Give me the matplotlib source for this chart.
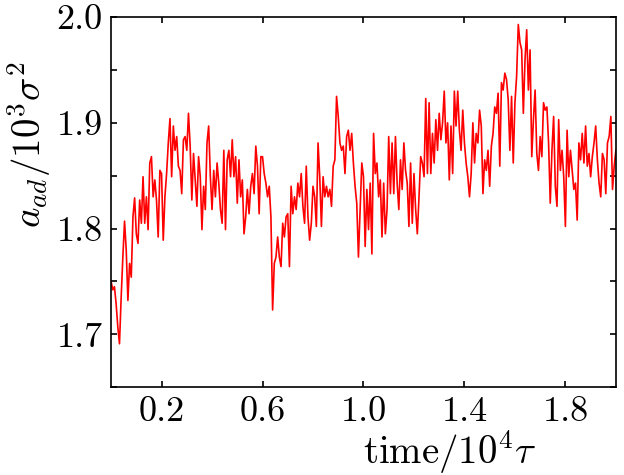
import numpy as np
import matplotlib
matplotlib.use("Agg")
import matplotlib.pyplot as plt
from matplotlib.ticker import MultipleLocator, FixedLocator

# Computer Modern look
plt.rcParams['font.family'] = 'serif'
plt.rcParams['font.serif'] = ['cmr10', 'DejaVu Serif']
plt.rcParams['mathtext.fontset'] = 'cm'
plt.rcParams['axes.formatter.use_mathtext'] = True

# a_ad (units of 10^3 sigma^2), evenly spaced in time
a_ad_part1 = [1.750, 1.742, 1.745, 1.729, 1.707, 1.691, 1.735, 1.773, 1.807, 1.780,
              1.732, 1.767, 1.754, 1.811, 1.829, 1.795, 1.786, 1.827, 1.805, 1.849,
              1.805, 1.830, 1.799, 1.862, 1.868, 1.830, 1.846, 1.827, 1.792, 1.855,
              1.852, 1.789, 1.830, 1.852, 1.881, 1.904, 1.849, 1.897, 1.874, 1.887,
              1.859, 1.855, 1.833, 1.884, 1.887, 1.874, 1.909, 1.878, 1.827, 1.871,
              1.846, 1.821, 1.868, 1.849, 1.799, 1.840, 1.818, 1.881, 1.897, 1.849,
              1.818, 1.855, 1.830, 1.862, 1.843, 1.818, 1.805, 1.874, 1.799, 1.865,
              1.874, 1.849]
a_ad_part2 = [1.884, 1.849, 1.868, 1.824, 1.865, 1.830, 1.846, 1.795, 1.811, 1.837,
              1.814, 1.840, 1.852, 1.833, 1.878, 1.859, 1.814, 1.868, 1.868, 1.852,
              1.843, 1.830, 1.840, 1.811, 1.723, 1.767, 1.773, 1.792, 1.773, 1.764,
              1.805, 1.792, 1.811, 1.814, 1.764, 1.840, 1.814, 1.830, 1.818, 1.843,
              1.830, 1.852, 1.821, 1.805, 1.859, 1.811, 1.789, 1.805, 1.840, 1.830,
              1.802, 1.881, 1.849, 1.802, 1.849, 1.830, 1.840, 1.830, 1.837, 1.821,
              1.859, 1.865, 1.925, 1.906, 1.881, 1.874, 1.878, 1.852, 1.887, 1.893,
              1.874]
a_ad_part3 = [1.890, 1.862, 1.840, 1.824, 1.773, 1.818, 1.862, 1.849, 1.783, 1.837,
              1.799, 1.843, 1.776, 1.890, 1.852, 1.862, 1.830, 1.846, 1.792, 1.843,
              1.795, 1.818, 1.887, 1.833, 1.881, 1.833, 1.887, 1.843, 1.818, 1.865,
              1.837, 1.881, 1.855, 1.843, 1.802, 1.862, 1.805, 1.852, 1.818, 1.795,
              1.830, 1.868, 1.862, 1.849, 1.923, 1.852, 1.919, 1.852, 1.890, 1.862,
              1.903, 1.874, 1.909, 1.884, 1.900, 1.930, 1.881, 1.900, 1.846, 1.897,
              1.852, 1.930, 1.897, 1.930, 1.893, 1.874, 1.912, 1.881, 1.862]
a_ad_part4 = [1.849, 1.830, 1.852, 1.900, 1.862, 1.890, 1.881, 1.912, 1.897, 1.833,
              1.865, 1.855, 1.874, 1.840, 1.878, 1.890, 1.915, 1.909, 1.928, 1.859,
              1.938, 1.931, 1.947, 1.941, 1.922, 1.874, 1.925, 1.862, 1.919, 1.944,
              1.993, 1.976, 1.969, 1.909, 1.960, 1.988, 1.931, 1.969, 1.868, 1.903,
              1.931, 1.871, 1.855, 1.887, 1.868, 1.919, 1.912, 1.915, 1.881, 1.824,
              1.874, 1.906, 1.840, 1.821, 1.903, 1.855, 1.874, 1.849, 1.802, 1.893,
              1.849, 1.874, 1.855, 1.837, 1.843, 1.808, 1.881, 1.865, 1.890, 1.862,
              1.897, 1.859, 1.871, 1.849, 1.868, 1.881, 1.897, 1.865, 1.843, 1.830,
              1.871, 1.865, 1.833, 1.881, 1.887, 1.906, 1.837, 1.859, 1.874]

a_ad = np.array(a_ad_part1 + a_ad_part2 + a_ad_part3 + a_ad_part4)
time = np.linspace(0.0, 2.0, len(a_ad))  # in units of 10^4 tau

xticks = [0.2, 0.6, 1.0, 1.4, 1.8]
yticks = [1.7, 1.8, 1.9, 2.0]

fig = plt.figure(figsize=(6.24, 4.75), dpi=100)
ax = fig.add_axes([0.178, 0.185, 0.809, 0.779])

ax.plot(time, a_ad, color='red', lw=1.2)

ax.set_xlim(0.0, 2.0)
ax.set_ylim(1.65, 2.0)
ax.xaxis.set_major_locator(FixedLocator(xticks))
ax.yaxis.set_major_locator(FixedLocator(yticks))
ax.yaxis.set_minor_locator(MultipleLocator(0.05))
ax.set_xticklabels(["%.1f" % t for t in xticks])
ax.set_yticklabels(["%.1f" % t for t in yticks])

ax.tick_params(which='both', direction='in', top=True, right=True,
               length=4.5, width=1.2, labelsize=26)
ax.tick_params(axis='x', pad=7)
ax.tick_params(axis='y', pad=6)
for sp in ax.spines.values():
    sp.set_linewidth(1.2)

ax.set_xlabel(r'$\mathrm{time}/10^4\tau$', fontsize=28)
ax.set_ylabel(r'$a_{ad}/10^3\sigma^2$', fontsize=28)
ax.xaxis.set_label_coords(0.67, -0.11)
ax.yaxis.set_label_coords(-0.116, 0.655)

fig.savefig('out.png', dpi=100)
